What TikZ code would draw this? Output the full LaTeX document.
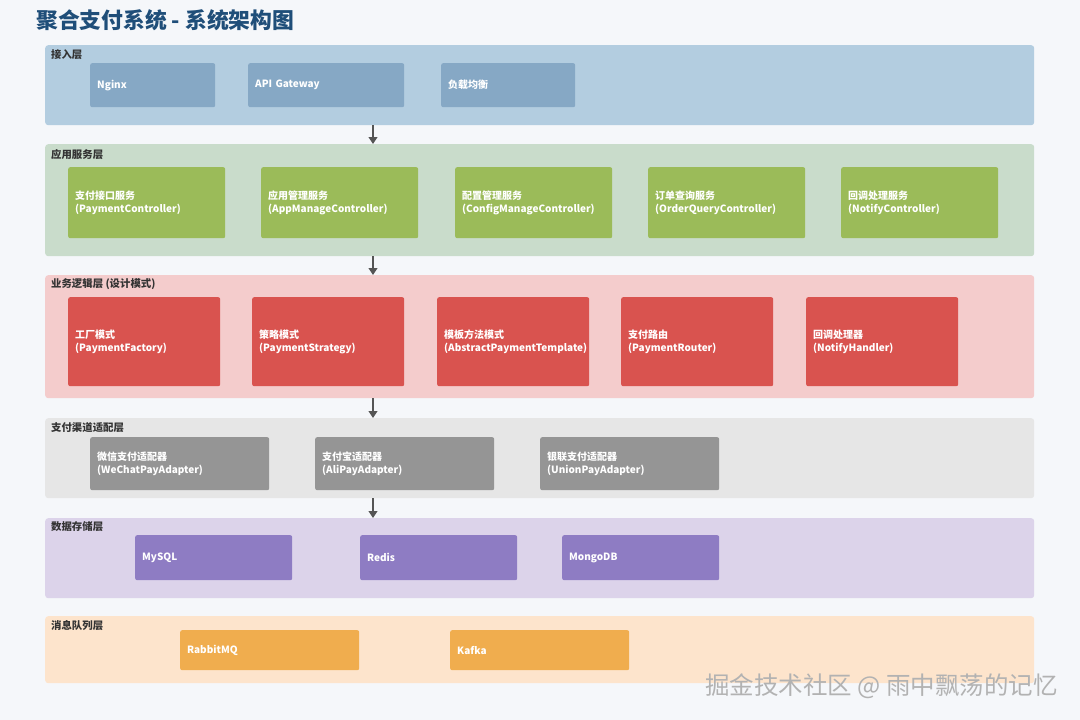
\documentclass[tikz,border=0pt]{standalone}
\usepackage{fontspec}
\setmainfont{Noto Sans CJK SC}
\usetikzlibrary{arrows.meta,positioning}
\definecolor{pagebg}{HTML}{F5F7FA}
\definecolor{titlec}{HTML}{1F4E79}
\definecolor{labelc}{HTML}{333333}
\definecolor{arrc}{HTML}{555555}
\definecolor{bgA}{HTML}{B3CDE0}\definecolor{boxA}{HTML}{86A8C5}
\definecolor{bgB}{HTML}{C9DCCB}\definecolor{boxB}{HTML}{9BBB59}
\definecolor{bgC}{HTML}{F4CCCC}\definecolor{boxC}{HTML}{D9534F}
\definecolor{bgD}{HTML}{E6E6E6}\definecolor{boxD}{HTML}{959595}
\definecolor{bgE}{HTML}{DCD3EA}\definecolor{boxE}{HTML}{8E7CC3}
\definecolor{bgF}{HTML}{FDE4CC}\definecolor{boxF}{HTML}{F0AD4E}

\begin{document}
\begin{tikzpicture}[x=1pt,y=-1pt,
  layer/.style = {anchor=north west, rounded corners=3pt, minimum width=989pt, inner sep=0pt},
  comp/.style = {anchor=north west, rounded corners=2pt, text=white, inner xsep=7pt, inner ysep=0pt,
    font=\fontsize{10}{13}\selectfont\bfseries, align=left, text width=#1},
  lbl/.style = {anchor=west, text=labelc, inner sep=0pt, font=\fontsize{10.4}{12}\selectfont\bfseries},
  arr/.style = {draw=arrc, line width=1.1pt, -{Triangle[length=7pt,width=9pt]}}]
  \useasboundingbox[fill=pagebg] (0,0) rectangle (1080,720);
  \node[anchor=west, text=titlec, inner sep=0pt, font=\fontsize{21.8}{24}\selectfont\bfseries] (title) at (36,20) {聚合支付系统 - 系统架构图};

  % 接入层
  \node[layer, fill=bgA, minimum height=80pt] (l1) at (45,45) {};
  \node[lbl] (t1) at (51,55) {接入层};
  \node[comp=111pt, fill=boxA, minimum height=44pt] (nginx) at (90,63) {Nginx};
  \node[comp=142pt, fill=boxA, minimum height=44pt] (gw) at (248,63) {API Gateway};
  \node[comp=120pt, fill=boxA, minimum height=44pt] (lb) at (441,63) {负载均衡};

  % 应用服务层
  \node[layer, fill=bgB, minimum height=112pt] (l2) at (45,144) {};
  \node[lbl] (t2) at (51,155) {应用服务层};
  \node[comp=143pt, fill=boxB, minimum height=71pt] (pay) at (68,167) {支付接口服务\\(PaymentController)};
  \node[comp=143pt, fill=boxB, minimum height=71pt] (app) at (261,167) {应用管理服务\\(AppManageController)};
  \node[comp=143pt, fill=boxB, minimum height=71pt] (cfg) at (455,167) {配置管理服务\\(ConfigManageController)};
  \node[comp=143pt, fill=boxB, minimum height=71pt] (order) at (648,167) {订单查询服务\\(OrderQueryController)};
  \node[comp=143pt, fill=boxB, minimum height=71pt] (notify) at (841,167) {回调处理服务\\(NotifyController)};

  % 业务逻辑层
  \node[layer, fill=bgC, minimum height=123pt] (l3) at (45,275) {};
  \node[lbl] (t3) at (51,284) {业务逻辑层 (设计模式)};
  \node[comp=138pt, fill=boxC, minimum height=89pt] (factory) at (68,297) {工厂模式\\(PaymentFactory)};
  \node[comp=138pt, fill=boxC, minimum height=89pt] (strategy) at (252,297) {策略模式\\(PaymentStrategy)};
  \node[comp=138pt, fill=boxC, minimum height=89pt] (template) at (437,297) {模板方法模式\\(AbstractPaymentTemplate)};
  \node[comp=138pt, fill=boxC, minimum height=89pt] (router) at (621,297) {支付路由\\(PaymentRouter)};
  \node[comp=138pt, fill=boxC, minimum height=89pt] (handler) at (806,297) {回调处理器\\(NotifyHandler)};

  % 支付渠道适配层
  \node[layer, fill=bgD, minimum height=80pt] (l4) at (45,418) {};
  \node[lbl] (t4) at (51,428) {支付渠道适配层};
  \node[comp=165pt, fill=boxD, minimum height=53pt] (wechat) at (90,437) {微信支付适配器\\(WeChatPayAdapter)};
  \node[comp=165pt, fill=boxD, minimum height=53pt] (ali) at (315,437) {支付宝适配器\\(AliPayAdapter)};
  \node[comp=165pt, fill=boxD, minimum height=53pt] (union) at (540,437) {银联支付适配器\\(UnionPayAdapter)};

  % 数据存储层
  \node[layer, fill=bgE, minimum height=80pt] (l5) at (45,518) {};
  \node[lbl] (t5) at (51,527) {数据存储层};
  \node[comp=143pt, fill=boxE, minimum height=45pt] (mysql) at (135,535) {MySQL};
  \node[comp=143pt, fill=boxE, minimum height=45pt] (redis) at (360,535) {Redis};
  \node[comp=143pt, fill=boxE, minimum height=45pt] (mongo) at (562,535) {MongoDB};

  % 消息队列层
  \node[layer, fill=bgF, minimum height=67pt] (l6) at (45,616) {};
  \node[lbl] (t6) at (51,626) {消息队列层};
  \node[comp=165pt, fill=boxF, minimum height=40pt] (rabbit) at (180,630) {RabbitMQ};
  \node[comp=165pt, fill=boxF, minimum height=40pt] (kafka) at (450,630) {Kafka};

  \draw[arr] (l1.south -| 373,0) -- (l2.north -| 373,0);
  \draw[arr] (l2.south -| 373,0) -- (l3.north -| 373,0);
  \draw[arr] (l3.south -| 373,0) -- (l4.north -| 373,0);
  \draw[arr] (l4.south -| 373,0) -- (l5.north -| 373,0);

  \node[anchor=east, text=gray!60, inner sep=0pt, font=\fontsize{24.5}{26}\selectfont] (mark) at (1058,686) {掘金技术社区 @ 雨中飘荡的记忆};
\end{tikzpicture}
\end{document}
